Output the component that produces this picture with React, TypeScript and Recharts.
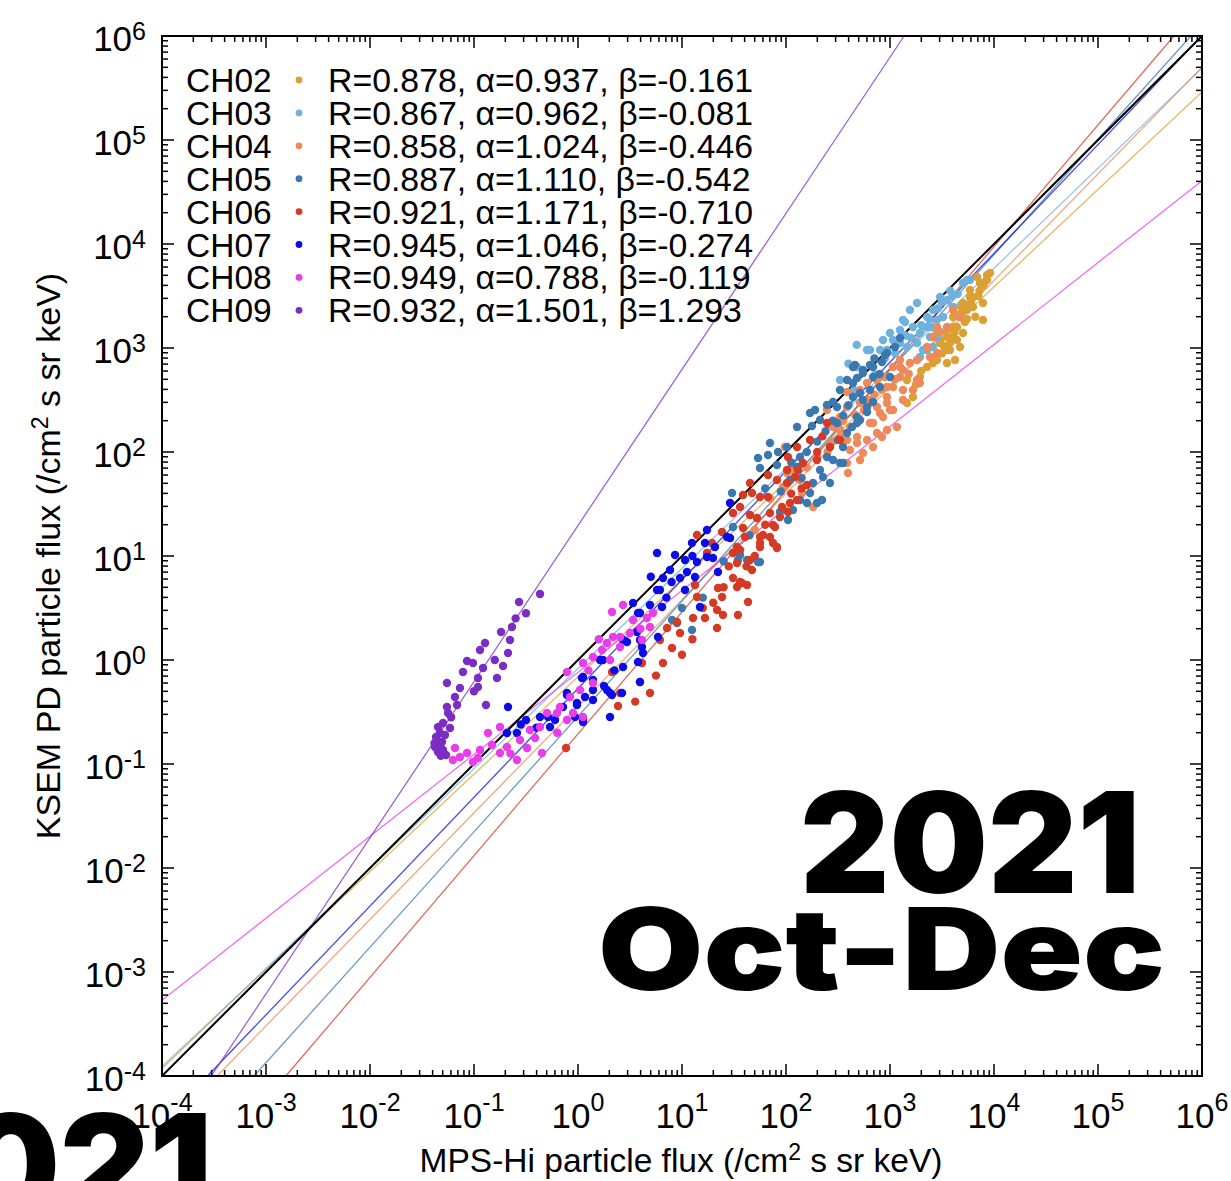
import React from 'react'
import { ScatterChart, Scatter, XAxis, YAxis, ReferenceLine } from 'recharts'

// canvas + plot box (pixels)
const W = 1231
const H = 1181
const PLOT = { left: 162, right: 1202, top: 36, bottom: 1076 }

const FONT = "'Liberation Sans', Arial, Helvetica, sans-serif"
const HEAVY = "Inter, Lato, 'DejaVu Sans', sans-serif"

// legend / fit parameters
const channels = ['CH02', 'CH03', 'CH04', 'CH05', 'CH06', 'CH07', 'CH08', 'CH09']
const colors = ['#DBA033', '#6FB1DD', '#EE8A5A', '#3A78AF', '#D53A25', '#0C0CE6', '#E83DE8', '#7B2CC2']
const rValues = ['0.878', '0.867', '0.858', '0.887', '0.921', '0.945', '0.949', '0.932']
const alphas = ['0.937', '0.962', '1.024', '1.110', '1.171', '1.046', '0.788', '1.501']
const betas = ['-0.161', '-0.081', '-0.446', '-0.542', '-0.710', '-0.274', '-0.119', '1.293']

// tick labels (decade exponents)
const decades = [-4, -3, -2, -1, 0, 1, 2, 3, 4, 5, 6]

// scatter points as [log10 MPS-Hi, log10 KSEM]
const ch02Pts: [number, number][] = [
  [3.837, 3.683], [3.933, 3.702], [3.865, 3.625], [3.769, 3.49], [3.798, 3.394], [3.894, 3.433],
  [3.894, 3.269], [3.74, 3.365], [3.673, 3.298], [3.644, 3.202], [3.702, 3.144], [3.606, 3.106],
  [3.548, 3.106], [3.481, 3.048], [3.577, 2.981], [3.673, 3.01], [3.413, 2.856], [3.548, 2.856],
  [3.452, 3.144], [3.163, 2.471], [3.221, 2.529], [3.702, 3.433], [3.769, 3.558], [3.933, 3.654],
  [3.798, 3.49], [3.74, 3.394], [3.606, 3.298], [3.548, 3.173], [3.644, 3.077], [3.481, 3.077],
  [3.413, 3.01], [3.385, 2.913], [3.288, 2.721], [3.163, 2.692], [3.548, 2.981], [3.452, 2.885],
  [3.356, 2.817], [3.962, 3.721], [3.625, 2.885], [3.3, 2.78], [3.25, 2.65], [3.5, 2.95],
  [3.72, 3.25], [3.82, 3.3], [3.6, 3.2], [3.68, 3.4], [3.86, 3.55], [3.7, 3.35], [3.78, 3.45],
  [3.85, 3.5], [3.58, 3.05], [3.62, 3.15], [3.52, 3.02], [3.44, 2.92], [3.9, 3.6], [3.74, 3.28],
  [3.66, 3.32],
]
const ch03Pts: [number, number][] = [
  [3.26, 3.433], [3.192, 3.365], [3.125, 3.269], [3.0, 3.144], [2.933, 3.077], [2.808, 2.981],
  [2.904, 2.981], [3.067, 3.048], [3.163, 3.01], [3.288, 3.144], [3.356, 3.202], [3.452, 3.269],
  [3.51, 3.298], [3.481, 3.49], [3.548, 3.462], [3.606, 3.394], [3.702, 3.625], [3.74, 3.654],
  [3.385, 3.106], [3.356, 2.981], [3.288, 2.913], [3.413, 3.01], [3.096, 3.173], [2.683, 2.817],
  [2.519, 2.692], [3.144, 3.25], [3.029, 3.077], [2.971, 2.981], [3.096, 3.048], [3.221, 3.202],
  [3.356, 3.298], [3.413, 3.365], [3.452, 3.106], [3.26, 3.048], [3.317, 2.981], [3.769, 3.654],
  [2.779, 2.981], [2.654, 2.596], [2.856, 2.74], [3.58, 3.55], [3.65, 3.52], [2.68, 3.03], [2.6, 2.85],
  [3.2, 3.1], [3.3, 3.22], [3.38, 3.28], [3.46, 3.38], [3.5, 3.44], [3.15, 3.12], [2.95, 2.9],
  [3.05, 2.95], [3.6, 3.5], [3.4, 3.2],
]
const ch04Pts: [number, number][] = [
  [1.99, 2.048], [2.587, 2.577], [2.712, 2.596], [2.779, 2.663], [2.875, 2.692], [2.971, 2.625],
  [3.029, 2.817], [3.096, 2.885], [3.125, 2.788], [2.971, 2.471], [2.904, 2.375], [2.837, 2.279],
  [2.875, 2.183], [2.779, 2.115], [2.74, 1.99], [2.683, 2.087], [2.615, 2.019], [2.587, 2.115],
  [2.519, 2.212], [2.452, 2.24], [3.029, 2.404], [3.125, 2.5], [3.067, 2.24], [2.971, 2.212],
  [2.923, 2.144], [2.837, 2.048], [2.712, 1.923], [2.587, 1.894], [2.596, 1.798], [2.26, 1.471],
  [2.154, 1.606], [1.971, 1.663], [2.01, 1.798], [2.135, 1.731], [2.067, 1.827], [3.096, 2.817],
  [3.192, 2.856], [3.26, 2.885], [3.356, 3.01], [3.413, 3.106], [3.481, 3.154], [3.548, 3.202],
  [3.385, 2.913], [3.26, 2.692], [3.096, 2.721], [3.029, 2.625], [2.971, 2.529], [3.125, 2.596],
  [3.221, 2.596], [3.288, 2.663], [2.875, 2.433], [2.933, 2.337], [2.808, 2.279], [3.0, 2.404],
  [2.712, 2.471], [2.587, 2.433], [2.519, 2.337], [2.615, 2.24], [2.683, 2.144], [2.519, 2.144],
  [2.394, 2.404], [3.452, 2.952], [3.673, 3.298], [3.606, 3.365], [3.452, 3.202], [1.7, 1.25],
  [1.85, 1.55], [2.8, 2.5], [2.85, 2.55], [2.92, 2.6], [2.66, 2.36], [2.75, 2.4], [2.95, 2.72],
  [3.05, 2.7], [3.18, 2.75], [2.55, 2.3], [2.45, 2.1], [2.3, 1.95], [2.4, 2.0], [2.2, 1.85],
]
const ch05Pts: [number, number][] = [
  [1.558, 1.01], [1.625, 0.962], [1.75, 0.942], [1.096, 0.288], [0.952, 0.356], [1.942, 1.423],
  [1.49, 1.279], [0.904, 0.385], [1.827, 1.971], [1.75, 1.846], [1.923, 2.0], [2.106, 2.24],
  [2.231, 2.375], [2.279, 2.404], [2.327, 2.308], [2.394, 2.452], [2.452, 2.481], [2.49, 2.433],
  [2.587, 2.692], [2.663, 2.837], [2.74, 2.76], [2.837, 2.817], [2.923, 2.865], [2.952, 2.933],
  [3.048, 3.01], [3.096, 3.096], [2.683, 2.712], [2.644, 2.529], [2.74, 2.5], [2.837, 2.481],
  [2.779, 2.385], [2.712, 2.308], [2.635, 2.24], [2.587, 2.183], [2.5, 2.115], [2.423, 2.048],
  [2.394, 1.952], [2.452, 1.923], [2.519, 1.894], [2.327, 1.827], [2.356, 1.76], [2.423, 1.702],
  [2.26, 1.702], [2.298, 1.51], [2.202, 1.51], [2.135, 1.538], [2.231, 1.606], [2.067, 1.442],
  [2.019, 1.346], [1.731, 1.942], [1.481, 1.606], [1.846, 2.087], [1.913, 1.875], [2.038, 1.731],
  [2.135, 1.952], [2.01, 2.048], [2.106, 1.856], [2.548, 2.048], [2.49, 2.279], [2.683, 2.337],
  [2.808, 2.596], [2.904, 2.625], [3.0, 2.721], [2.548, 1.894], [2.346, 1.538], [1.538, 0.962],
  [1.731, 0.942], [2.519, 2.596], [2.644, 2.663], [2.74, 2.788], [2.808, 2.837], [2.644, 2.817],
  [2.837, 2.721], [2.712, 2.567], [2.779, 2.433], [2.683, 2.279], [2.971, 2.952], [2.55, 2.35],
  [2.6, 2.45], [2.45, 2.3], [2.38, 2.2], [2.3, 2.1], [2.2, 2.0], [2.15, 1.75], [1.95, 1.62],
  [2.05, 1.9], [2.25, 2.25], [2.85, 2.9], [2.9, 2.75], [1.8, 1.65], [1.65, 1.2], [1.4, 0.95],
  [1.2, 0.6], [1.0, 0.5],
]
const ch06Pts: [number, number][] = [
  [-0.115, -0.846], [0.385, -0.442], [0.692, -0.317], [0.596, -0.212], [0.327, -0.115], [0.615, -0.029],
  [0.817, -0.029], [0.904, 0.115], [0.856, 0.308], [0.952, 0.365], [0.788, 0.192], [0.404, -0.317],
  [0.981, 0.26], [1.106, 0.404], [1.221, 0.404], [1.337, 0.308], [1.394, 0.433], [1.538, 0.433],
  [1.635, 0.558], [1.337, 0.481], [1.385, 0.606], [1.346, 0.692], [1.144, 0.606], [1.125, 0.721],
  [1.49, 0.788], [1.558, 0.75], [1.625, 0.721], [1.529, 0.702], [1.673, 0.865], [1.144, 1.202],
  [1.24, 1.029], [1.288, 1.125], [1.49, 1.029], [1.529, 1.087], [1.75, 1.125], [1.875, 1.125],
  [1.913, 1.077], [1.779, 1.202], [1.875, 1.298], [1.606, 1.183], [1.721, 1.365], [1.846, 1.413],
  [1.962, 1.471], [1.654, 1.394], [1.385, 1.231], [1.577, 0.74], [1.529, 0.933], [1.654, 0.962],
  [1.558, 1.058], [1.75, 1.087], [1.913, 1.087], [1.846, 1.183], [1.894, 1.279], [1.75, 1.183],
  [2.038, 1.51], [2.019, 1.423], [2.106, 1.538], [1.827, 1.567], [1.75, 1.567], [1.673, 1.606],
  [1.587, 1.587], [1.654, 1.702], [1.827, 1.779], [1.913, 1.731], [2.01, 1.702], [2.087, 1.76],
  [2.01, 1.827], [2.115, 1.827], [2.163, 1.894], [2.019, 1.952], [2.106, 2.048], [2.231, 2.115],
  [2.298, 1.923], [2.394, 2.279], [2.423, 2.048], [2.519, 2.115], [2.202, 1.683], [1.942, 1.375],
  [1.587, 1.269], [1.49, 1.413], [1.558, 1.471], [1.45, 0.9], [1.4, 0.7], [1.3, 0.55], [1.2, 0.5],
  [1.1, 0.2], [1.0, 0.05], [0.75, -0.15], [0.55, -0.4], [1.7, 1.0], [1.8, 1.3], [2.05, 1.6],
  [2.15, 1.65], [2.3, 2.0], [2.35, 2.15], [1.62, 0.9],
]
const ch07Pts: [number, number][] = [
  [1.462, 1.51], [0.76, 1.029], [0.933, 1.01], [1.029, 0.962], [1.096, 1.125], [1.24, 1.25],
  [1.144, 0.942], [1.048, 0.846], [0.981, 0.788], [1.125, 0.798], [0.885, 0.865], [0.817, 0.788],
  [0.76, 0.673], [1.029, 0.673], [1.346, 0.846], [1.298, 0.981], [1.433, 1.183], [0.692, 0.529],
  [0.808, 0.51], [0.596, 0.452], [0.567, 0.269], [0.615, 0.125], [0.625, 0.067], [0.471, 0.173],
  [0.433, -0.067], [0.577, -0.019], [0.596, -0.212], [0.24, 0.0], [0.144, -0.192], [0.048, -0.163],
  [0.067, -0.356], [0.144, -0.385], [0.308, -0.317], [-0.01, -0.413], [-0.106, -0.317], [-0.029, -0.548],
  [0.048, -0.577], [0.308, -0.548], [1.173, 0.51], [-0.673, -0.452], [-0.683, -0.702], [-0.587, -0.702],
  [-0.5, -0.577], [-0.288, -0.548], [-0.221, -0.577], [-0.269, -0.644], [-0.106, -0.337], [-0.01, -0.433],
  [0.038, -0.173], [0.144, -0.288], [0.279, -0.288], [0.327, -0.337], [0.423, -0.317], [0.048, -0.596],
  [0.577, 0.452], [0.529, 0.548], [0.788, 0.673], [0.769, 0.221], [0.596, 0.192], [0.433, 0.192],
  [0.212, 0.0], [-0.144, -0.452], [-0.365, -0.548], [1.221, 1.125], [1.317, 1.087], [1.462, 1.173],
  [1.24, 0.99], [0.9, 0.75], [0.7, 0.8], [0.35, -0.1], [0.25, -0.25], [-0.4, -0.65], [-0.55, -0.62],
  [1.1, 1.0], [0.85, 0.6],
]
const ch08Pts: [number, number][] = [
  [-1.298, -0.894], [-1.202, -0.962], [-1.067, -0.894], [-1.01, -0.981], [-0.942, -0.865], [-0.827, -0.817],
  [-0.75, -0.644], [-0.865, -0.702], [-0.75, -0.894], [-0.587, -0.962], [-0.683, -0.837], [-0.49, -0.846],
  [-0.413, -0.75], [-0.365, -0.644], [-0.462, -0.673], [-0.346, -0.894], [-0.558, -0.769], [-0.298, -0.51],
  [-0.202, -0.51], [-0.106, -0.115], [0.048, -0.029], [0.144, 0.029], [0.231, 0.096], [0.279, 0.163],
  [0.337, 0.221], [0.327, 0.462], [0.433, 0.529], [0.529, 0.385], [0.663, 0.404], [0.721, 0.452],
  [0.692, 0.317], [0.404, 0.125], [0.308, 0.0], [0.144, -0.221], [0.019, -0.288], [-0.077, -0.356],
  [-0.173, -0.452], [-0.048, -0.51], [-0.106, -0.577], [0.048, -0.548], [0.404, 0.221], [0.5, 0.26],
  [0.615, 0.192], [-1.135, -0.933], [-0.962, -0.942], [-1.183, -0.846], [0.2, 0.2], [0.6, 0.3],
  [0.1, -0.1], [-0.2, -0.7], [-0.65, -0.9],
]
const ch09Pts: [number, number][] = [
  [-0.365, 0.635], [-0.567, 0.558], [-0.635, 0.317], [-0.74, 0.269], [-0.654, 0.192], [-0.894, 0.163],
  [-0.942, 0.096], [-1.067, -0.01], [-1.01, -0.029], [-0.913, -0.077], [-0.721, -0.058], [-0.673, 0.067],
  [-1.106, -0.115], [-0.962, -0.173], [-0.779, -0.173], [-1.26, -0.221], [-1.135, -0.269], [-1.183, -0.356],
  [-0.962, -0.26], [-0.885, -0.433], [-1.163, -0.433], [-1.26, -0.452], [-1.25, -0.51], [-1.298, -0.606],
  [-1.327, -0.702], [-1.356, -0.769], [-1.375, -0.837], [-1.327, -0.817], [-1.298, -0.865], [-1.346, -0.644],
  [-1.365, -0.74], [-1.308, -0.788], [-1.279, -0.721], [-1.231, -0.654], [-1.346, -0.885], [-1.269, -0.913],
  [-0.8, 0.0], [-1.0, -0.3], [-1.22, -0.55], [-0.6, 0.4], [-0.5, 0.45], [-1.32, -0.92], [-1.38, -0.8],
]
const pointSets = [ch02Pts, ch03Pts, ch04Pts, ch05Pts, ch06Pts, ch07Pts, ch08Pts, ch09Pts]

const LOG_MIN = -4
const LOG_MAX = 6
const DOMAIN: [number, number] = [1e-4, 1e6]

// every decade gets minor ticks at 2..9
const axisTicks: number[] = []
decades.forEach((d) => {
  if (d === LOG_MAX) {
    axisTicks.push(10 ** d)
    return
  }
  for (let k = 1; k <= 9; k++) axisTicks.push(k * 10 ** d)
})

// fitted line log y = a log x + b, clipped to the plot box
function fitSegment(a: number, b: number) {
  const lo = Math.max(LOG_MIN, (LOG_MIN - b) / a)
  const hi = Math.min(LOG_MAX, (LOG_MAX - b) / a)
  return [
    { x: 10 ** lo, y: 10 ** (a * lo + b) },
    { x: 10 ** hi, y: 10 ** (a * hi + b) },
  ]
}

const isMajor = (v: number) => {
  const e = Math.log10(v)
  return Math.abs(e - Math.round(e)) < 1e-6
}

const XTick = (props: any) => {
  const { x, payload } = props
  const v = payload.value
  const major = isMajor(v)
  const len = major ? 12 : 6
  const e = Math.round(Math.log10(v))
  return (
    <g>
      <line x1={x} x2={x} y1={PLOT.bottom} y2={PLOT.bottom - len} stroke="#000" strokeWidth={1.5} />
      <line x1={x} x2={x} y1={PLOT.top} y2={PLOT.top + len} stroke="#000" strokeWidth={1.5} />
      {major && (
        <text x={x} y={1128} textAnchor="middle" fontFamily={FONT} fontSize={35} fill="#000">
          10<tspan dy={-17} fontSize={25}>{e}</tspan>
        </text>
      )}
    </g>
  )
}

const YTick = (props: any) => {
  const { y, payload } = props
  const v = payload.value
  const major = isMajor(v)
  const len = major ? 12 : 6
  const e = Math.round(Math.log10(v))
  return (
    <g>
      <line x1={PLOT.left} x2={PLOT.left + len} y1={y} y2={y} stroke="#000" strokeWidth={1.5} />
      <line x1={PLOT.right} x2={PLOT.right - len} y1={y} y2={y} stroke="#000" strokeWidth={1.5} />
      {major && (
        <text x={146} y={y + 15} textAnchor="end" fontFamily={FONT} fontSize={35} fill="#000">
          10<tspan dy={-11} fontSize={25}>{e}</tspan>
        </text>
      )}
    </g>
  )
}

const Dot = (color: string) => (p: any) => <circle cx={p.cx} cy={p.cy} r={4.2} fill={color} />

function Overlay() {
  const rowY = (i: number) => 80 + i * 32.9
  return (
    <svg width={W} height={H} style={{ position: 'absolute', left: 0, top: 0, pointerEvents: 'none' }}>
      <rect
        x={PLOT.left}
        y={PLOT.top}
        width={PLOT.right - PLOT.left}
        height={PLOT.bottom - PLOT.top}
        fill="none"
        stroke="#000"
        strokeWidth={2}
      />
      {channels.map((ch, i) => (
        <g key={ch}>
          <text x={186} y={rowY(i) + 12} fontFamily={FONT} fontSize={33.5} fill="#000">
            {ch}
          </text>
          <circle cx={299} cy={rowY(i)} r={3.4} fill={colors[i]} />
          <text x={328} y={rowY(i) + 12} fontFamily={FONT} fontSize={33.8} fill="#000">
            {`R=${rValues[i]}, α=${alphas[i]}, β=${betas[i]}`}
          </text>
        </g>
      ))}
      <text x={681} y={1172} textAnchor="middle" fontFamily={FONT} fontSize={33.5} fill="#000">
        MPS-Hi particle flux (/cm<tspan dy={-12} fontSize={23}>2</tspan>
        <tspan dy={12}> s sr keV)</tspan>
      </text>
      <text
        transform="translate(60,556) rotate(-90)"
        textAnchor="middle"
        fontFamily={FONT}
        fontSize={34}
        fill="#000"
      >
        KSEM PD particle flux (/cm<tspan dy={-12} fontSize={23}>2</tspan>
        <tspan dy={12}> s sr keV)</tspan>
      </text>
      <text
        x={800}
        y={893}
        fontFamily={HEAVY}
        fontWeight={900}
        fontSize={140}
        textLength={340}
        lengthAdjust="spacingAndGlyphs"
        fill="#000"
      >
        2021
      </text>
      <text
        x={598}
        y={990}
        fontFamily={HEAVY}
        fontWeight={900}
        fontSize={114}
        textLength={567}
        lengthAdjust="spacingAndGlyphs"
        fill="#000"
      >
        Oct-Dec
      </text>
      <text
        x={-128}
        y={1215}
        fontFamily={HEAVY}
        fontWeight={900}
        fontSize={140}
        textLength={340}
        lengthAdjust="spacingAndGlyphs"
        fill="#000"
      >
        2021
      </text>
    </svg>
  )
}

export default function App() {
  const series = pointSets.map((pts) => pts.map(([lx, ly]) => ({ x: 10 ** lx, y: 10 ** ly })))
  return (
    <div style={{ position: 'absolute', left: 0, top: 0, width: W, height: H, background: '#fff', overflow: 'hidden' }}>
      <ScatterChart
        width={W}
        height={H}
        margin={{ top: PLOT.top, right: W - PLOT.right, bottom: H - PLOT.bottom - 60, left: PLOT.left - 60 }}
      >
        <XAxis
          type="number"
          dataKey="x"
          scale="log"
          domain={DOMAIN}
          allowDataOverflow
          ticks={axisTicks}
          interval={0}
          height={60}
          axisLine={false}
          tickLine={false}
          tick={<XTick />}
        />
        <YAxis
          type="number"
          dataKey="y"
          scale="log"
          domain={DOMAIN}
          allowDataOverflow
          ticks={axisTicks}
          interval={0}
          width={60}
          axisLine={false}
          tickLine={false}
          tick={<YTick />}
        />
        {series.map((data, i) => (
          <Scatter
            key={channels[i]}
            name={channels[i]}
            data={data}
            fill={colors[i]}
            shape={Dot(colors[i])}
            isAnimationActive={false}
          />
        ))}
        {alphas.map((a, i) => (
          <ReferenceLine
            key={`fit-${channels[i]}`}
            segment={fitSegment(Number(a), Number(betas[i]))}
            stroke={colors[i]}
            strokeOpacity={0.75}
            strokeWidth={1.3}
            ifOverflow="visible"
          />
        ))}
        <ReferenceLine
          segment={[
            { x: DOMAIN[0], y: DOMAIN[0] },
            { x: DOMAIN[1], y: DOMAIN[1] },
          ]}
          stroke="#000"
          strokeWidth={2}
          ifOverflow="visible"
        />
      </ScatterChart>
      <Overlay />
    </div>
  )
}
